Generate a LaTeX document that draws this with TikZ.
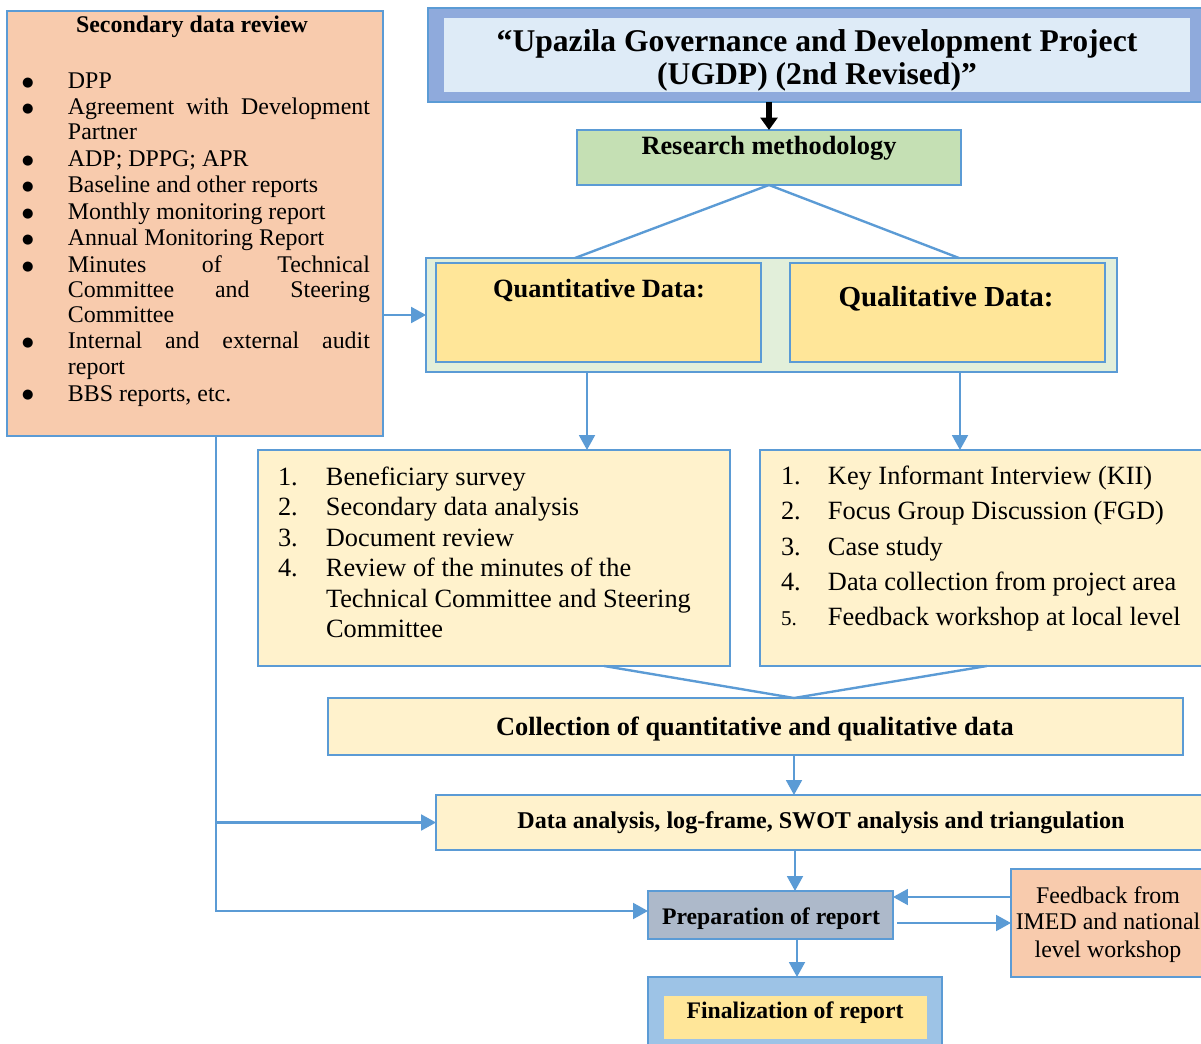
\documentclass[tikz,border=0pt]{standalone}
\usepackage{fontspec}
\setmainfont{Liberation Serif}
\newfontfamily\dejavu{DejaVu Sans}
\usetikzlibrary{arrows.meta}
\newdimen\pxd \pxd=0.569055pt
\definecolor{bl}{HTML}{5B9BD5}
\definecolor{peach}{HTML}{F8CBAD}
\definecolor{tout}{HTML}{8FAADC}
\definecolor{tin}{HTML}{DEEBF7}
\definecolor{grn}{HTML}{C5E0B4}
\definecolor{lgrn}{HTML}{E2EFDA}
\definecolor{yel}{HTML}{FFE699}
\definecolor{lyel}{HTML}{FFF2CC}
\definecolor{gry}{HTML}{ADB9CA}
\definecolor{fout}{HTML}{9DC3E6}
\newcommand\bx[6]{\node[box,#6,minimum width={(#4-#2)*\pxd},minimum height={(#5-#3)*\pxd}] (#1) at ({(#2+#4)/2},{(#3+#5)/2}) {};}
\newcommand\tx[5]{\node[txt,#5] (#1) at (#2,#3) {#4};}
\newcommand\jl[1]{\makebox[302\pxd][s]{#1}}
\newcommand\bul[1]{\makebox[46\pxd][l]{\raisebox{1.6pt}{\fontsize{7.5pt}{8pt}\dejavu ●}}#1}
\newcommand\nq[2]{\makebox[48\pxd][l]{#1}#2}
\newcommand\nl[2]{\makebox[47\pxd][l]{#1}#2}
\begin{document}
\begin{tikzpicture}[x=0.02cm,y=-0.02cm,
  box/.style={draw=bl,line width=1.25pt,inner sep=0pt,outer sep=0pt},
  txt/.style={inner sep=0pt,outer sep=0pt,anchor=base west},
  ctr/.style={anchor=base},
  fsec/.style={font=\fontsize{13.6pt}{15pt}\selectfont},
  flist/.style={font=\fontsize{15pt}{17pt}\selectfont},
  arr/.style={draw=bl,line width=1.35pt,-{Triangle[length=8.5pt,width=9pt]}},
  ln/.style={draw=bl,line width=1.35pt},
  blk/.style={draw=black,line width=3pt,-{Triangle[length=7pt,width=9.5pt]}}]
\clip (0,0) rectangle (1201,1044);
\fill[white] (0,0) rectangle (1201,1044);
% boxes
\bx{sec}{7}{11}{383}{436}{fill=peach}
\bx{tout}{428}{8}{1206}{102}{fill=tout}
\bx{tin}{444}{18}{1190}{92}{fill=tin,draw=none}
\bx{rm}{577}{130}{961}{185}{fill=grn}
\bx{cont}{426}{258}{1117}{372}{fill=lgrn}
\bx{qn}{436}{263}{761}{362}{fill=yel}
\bx{ql}{790}{263}{1105}{362}{fill=yel}
\bx{qnl}{258}{450}{730}{666}{fill=lyel}
\bx{qll}{760}{450}{1215}{666}{fill=lyel}
\bx{col}{328}{698}{1183}{755}{fill=lyel}
\bx{da}{436}{795}{1215}{850}{fill=lyel}
\bx{prep}{648}{891}{893}{939}{fill=gry}
\bx{fb}{1011}{869}{1215}{977}{fill=peach}
\bx{fout}{648}{977}{942}{1060}{fill=fout}
\bx{fin}{664}{996}{927}{1039}{fill=yel,draw=none}
% secondary data review
\tx{sect}{192}{33}{\bfseries Secondary data review}{ctr,fsec}
\tx{s1}{22}{89}{\bul{DPP}}{fsec}
\tx{s2}{22}{115}{\bul{\jl{Agreement with Development}}}{fsec}
\tx{s3}{68}{140}{Partner}{fsec}
\tx{s4}{22}{167}{\bul{ADP; DPPG; APR}}{fsec}
\tx{s5}{22}{193}{\bul{Baseline and other reports}}{fsec}
\tx{s6}{22}{220}{\bul{Monthly monitoring report}}{fsec}
\tx{s7}{22}{246}{\bul{Annual Monitoring Report}}{fsec}
\tx{s8}{22}{273}{\bul{\jl{Minutes of Technical}}}{fsec}
\tx{s9}{68}{298}{\jl{Committee and Steering}}{fsec}
\tx{s10}{68}{323}{Committee}{fsec}
\tx{s11}{22}{349}{\bul{\jl{Internal and external audit}}}{fsec}
\tx{s12}{68}{375}{report}{fsec}
\tx{s13}{22}{401}{\bul{BBS reports, etc.}}{fsec}
% title
\tx{t1}{817}{52}{\bfseries “Upazila Governance and Development Project}{ctr,font=\fontsize{18pt}{20pt}\selectfont}
\tx{t2}{817}{85}{\bfseries (UGDP) (2nd Revised)”}{ctr,font=\fontsize{18pt}{20pt}\selectfont}
% research methodology
\tx{rmt}{769}{155}{\bfseries Research methodology}{ctr,font=\fontsize{15pt}{17pt}\selectfont}
\tx{qnt}{599}{298}{\bfseries Quantitative Data:}{ctr,font=\fontsize{15pt}{17pt}\selectfont}
\tx{qlt}{946}{307}{\bfseries Qualitative Data:}{ctr,font=\fontsize{16.5pt}{18pt}\selectfont}
% quantitative list
\tx{a1}{278}{485}{\nq{1.}{Beneficiary survey}}{flist}
\tx{a2}{278}{515.5}{\nq{2.}{Secondary data analysis}}{flist}
\tx{a3}{278}{546}{\nq{3.}{Document review}}{flist}
\tx{a4}{278}{576.5}{\nq{4.}{Review of the minutes of the}}{flist}
\tx{a5}{326}{607}{Technical Committee and Steering}{flist}
\tx{a6}{326}{637.5}{Committee}{flist}
% qualitative list
\tx{b1}{781}{484}{\nl{1.}{Key Informant Interview (KII)}}{flist}
\tx{b2}{781}{519.5}{\nl{2.}{Focus Group Discussion (FGD)}}{flist}
\tx{b3}{781}{555}{\nl{3.}{Case study}}{flist}
\tx{b4}{781}{590}{\nl{4.}{Data collection from project area}}{flist}
\tx{b5}{781}{625}{\nl{{\fontsize{12pt}{14pt}\selectfont 5.}}{Feedback workshop at local level}}{flist}
% lower boxes
\tx{colt}{755}{735}{\bfseries Collection of quantitative and qualitative data}{ctr,font=\fontsize{15pt}{17pt}\selectfont}
\tx{dat}{821}{828}{\bfseries Data analysis, log-frame, SWOT analysis and triangulation}{ctr,font=\fontsize{13.7pt}{15pt}\selectfont}
\tx{prept}{771}{924}{\bfseries Preparation of report}{ctr,font=\fontsize{13.5pt}{15pt}\selectfont}
\tx{fb1}{1108}{903}{Feedback from}{ctr,fsec}
\tx{fb2}{1108}{929}{IMED and national}{ctr,fsec}
\tx{fb3}{1108}{957}{level workshop}{ctr,fsec}
\tx{fint}{795}{1018}{\bfseries Finalization of report}{ctr,font=\fontsize{13.5pt}{15pt}\selectfont}
% connectors
\draw[blk] (rm.north |- tout.south) -- (rm.north);
\draw[ln] (rm.south) -- (575,0 |- cont.north);
\draw[ln] (rm.south) -- (959,0 |- cont.north);
\draw[arr] (sec.east |- cont.west) -- (cont.west);
\draw[arr] (587,0 |- cont.south) -- (587,0 |- qnl.north);
\draw[arr] (960,0 |- cont.south) -- (960,0 |- qll.north);
\draw[ln] (604,0 |- qnl.south) -- (794,0 |- col.north);
\draw[ln] (987,0 |- qll.south) -- (794,0 |- col.north);
\draw[arr] (794,0 |- col.south) -- (794,0 |- da.north);
\draw[arr] (795,0 |- da.south) -- (795,0 |- prep.north);
\draw[arr] (797,0 |- prep.south) -- (797,0 |- fout.north);
\draw[arr] (fb.west |- 0,897) -- (prep.east |- 0,897);
\coordinate (pf) at (897,923);
\draw[arr] (pf) -- (fb.west |- pf);
\coordinate (s0) at (216,0 |- sec.south);
\draw[arr] (s0) |- (prep.west |- 0,911);
\draw[arr] (s0 |- da.west) -- (da.west);
\end{tikzpicture}
\end{document}
